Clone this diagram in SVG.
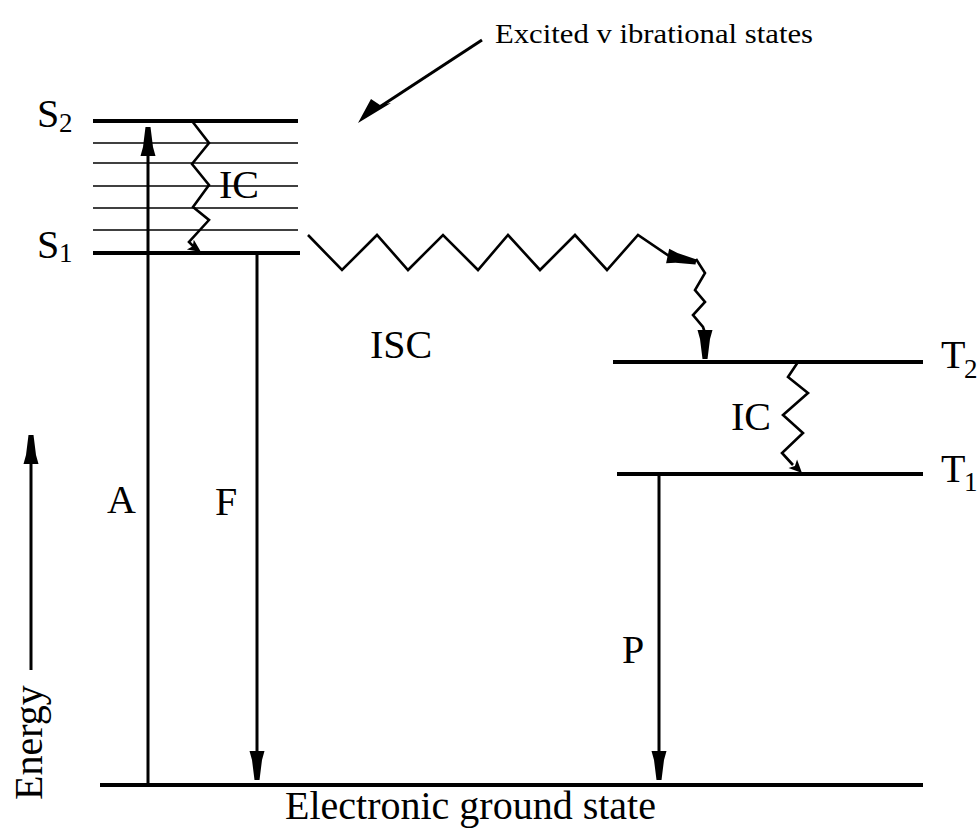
<svg xmlns="http://www.w3.org/2000/svg" xmlns:xlink="http://www.w3.org/1999/xlink" width="979" height="829" viewBox="0 0 979 829">
<style>
  text { font-family: "Liberation Serif", "Times New Roman", serif; fill: #000; }
  .lbl { font-size: 40px; }
  .sub { font-size: 27px; }
  .level { stroke: #000; stroke-width: 4; fill: none; }
  .vib { stroke: #000; stroke-width: 1.6; fill: none; }
  .arrow { stroke: #000; stroke-width: 3; fill: none; }
  .wig { stroke: #000; stroke-width: 2.6; fill: none; stroke-linejoin: miter; }
  .ah { fill: #000; }
</style>
<defs>
  <path id="ah" d="M0,-2.5 L0,2.5 L-20,5 L-29,7.5 L-29,-7.5 L-20,-5 Z"/>
  <path id="ahs" d="M0,0 L-13,-6 L-10,0 L-13,6 Z"/>
</defs>
<rect width="979" height="829" fill="#fff"/>

<g id="S2">
  <line class="level" x1="93" y1="121" x2="298" y2="121"/>
  <text class="lbl" x="37" y="127">S<tspan class="sub" x="59" y="132">2</tspan></text>
</g>
<g id="vibrational-levels">
  <line class="vib" x1="93" y1="143" x2="298" y2="143"/>
  <line class="vib" x1="93" y1="163" x2="298" y2="163"/>
  <line class="vib" x1="93" y1="186" x2="298" y2="186"/>
  <line class="vib" x1="93" y1="208" x2="298" y2="208"/>
  <line class="vib" x1="93" y1="230" x2="298" y2="230"/>
</g>
<g id="S1">
  <line class="level" x1="93" y1="253" x2="300" y2="253"/>
  <text class="lbl" x="37" y="258">S<tspan class="sub" x="59" y="262">1</tspan></text>
</g>
<g id="T2">
  <line class="level" x1="613" y1="362" x2="923" y2="362"/>
  <text class="lbl" x="941" y="368">T<tspan class="sub" x="964" y="378">2</tspan></text>
</g>
<g id="T1">
  <line class="level" x1="617" y1="474" x2="923" y2="474"/>
  <text class="lbl" x="941" y="482">T<tspan class="sub" x="964" y="491">1</tspan></text>
</g>
<g id="ground">
  <line class="level" x1="100" y1="785" x2="923" y2="785" stroke-width="5"/>
  <text class="lbl" x="285" y="819">Electronic ground state</text>
</g>
<g id="excited-label">
  <text x="495" y="43" font-size="28" textLength="318" lengthAdjust="spacingAndGlyphs">Excited v ibrational states</text>
</g>
<g id="energy-axis">
  <line class="arrow" x1="31" y1="670" x2="31" y2="445"/>
  <use href="#ah" class="ah" transform="translate(31,435) rotate(-90)"/>
  <text class="lbl" transform="translate(42,800) rotate(-90)">Energy</text>
</g>

<g id="connectors">
  <!-- pointer to excited vibrational states -->
  <line class="arrow" x1="482" y1="40" x2="375" y2="110" stroke-width="3.5"/>
  <path class="ah" d="M358,123 L371,99 L380,105 L391,103 Z"/>
  <!-- A absorption -->
  <line class="arrow" x1="148" y1="785" x2="148" y2="135"/>
  <use href="#ah" class="ah" transform="translate(148,127) rotate(-90)"/>
  <!-- F fluorescence -->
  <line class="arrow" x1="257" y1="253" x2="257" y2="770"/>
  <use href="#ah" class="ah" transform="translate(257,780) rotate(90)"/>
  <!-- P phosphorescence -->
  <line class="arrow" x1="659" y1="474" x2="659" y2="770"/>
  <use href="#ah" class="ah" transform="translate(659,780) rotate(90)"/>
  <!-- IC S2 -> S1 -->
  <polyline class="wig" points="192,121 209,143 192,164 209,185 193,207 209,220 189,242 194,247"/>
  <use href="#ahs" class="ah" transform="translate(201,252) rotate(35)"/>
  <!-- ISC -->
  <polyline class="wig" points="308,235 342,270 377,235 408,270 443,235 478,270 508,235 540,270 575,235 607,270 638,235 672,258"/>
  <use href="#ah" class="ah" transform="translate(696,262) rotate(12)"/>
  <polyline class="wig" points="696,259 705,273 695,290 705,302 693,315 703,327 705,333"/>
  <use href="#ah" class="ah" transform="translate(705,359) rotate(90)"/>
  <!-- IC T2 -> T1 -->
  <polyline class="wig" points="798,362 788,377 808,393 783,415 803,433 782,453 793,465"/>
  <use href="#ahs" class="ah" transform="translate(802,473) rotate(45)"/>
</g>

<g id="labels">
  <text class="lbl" x="219" y="198" font-size="38">IC</text>
  <text class="lbl" x="731" y="430" font-size="38">IC</text>
  <text class="lbl" x="370" y="358">ISC</text>
  <text class="lbl" x="107" y="513">A</text>
  <text class="lbl" x="215" y="515">F</text>
  <text class="lbl" x="622" y="663">P</text>
</g>
</svg>
